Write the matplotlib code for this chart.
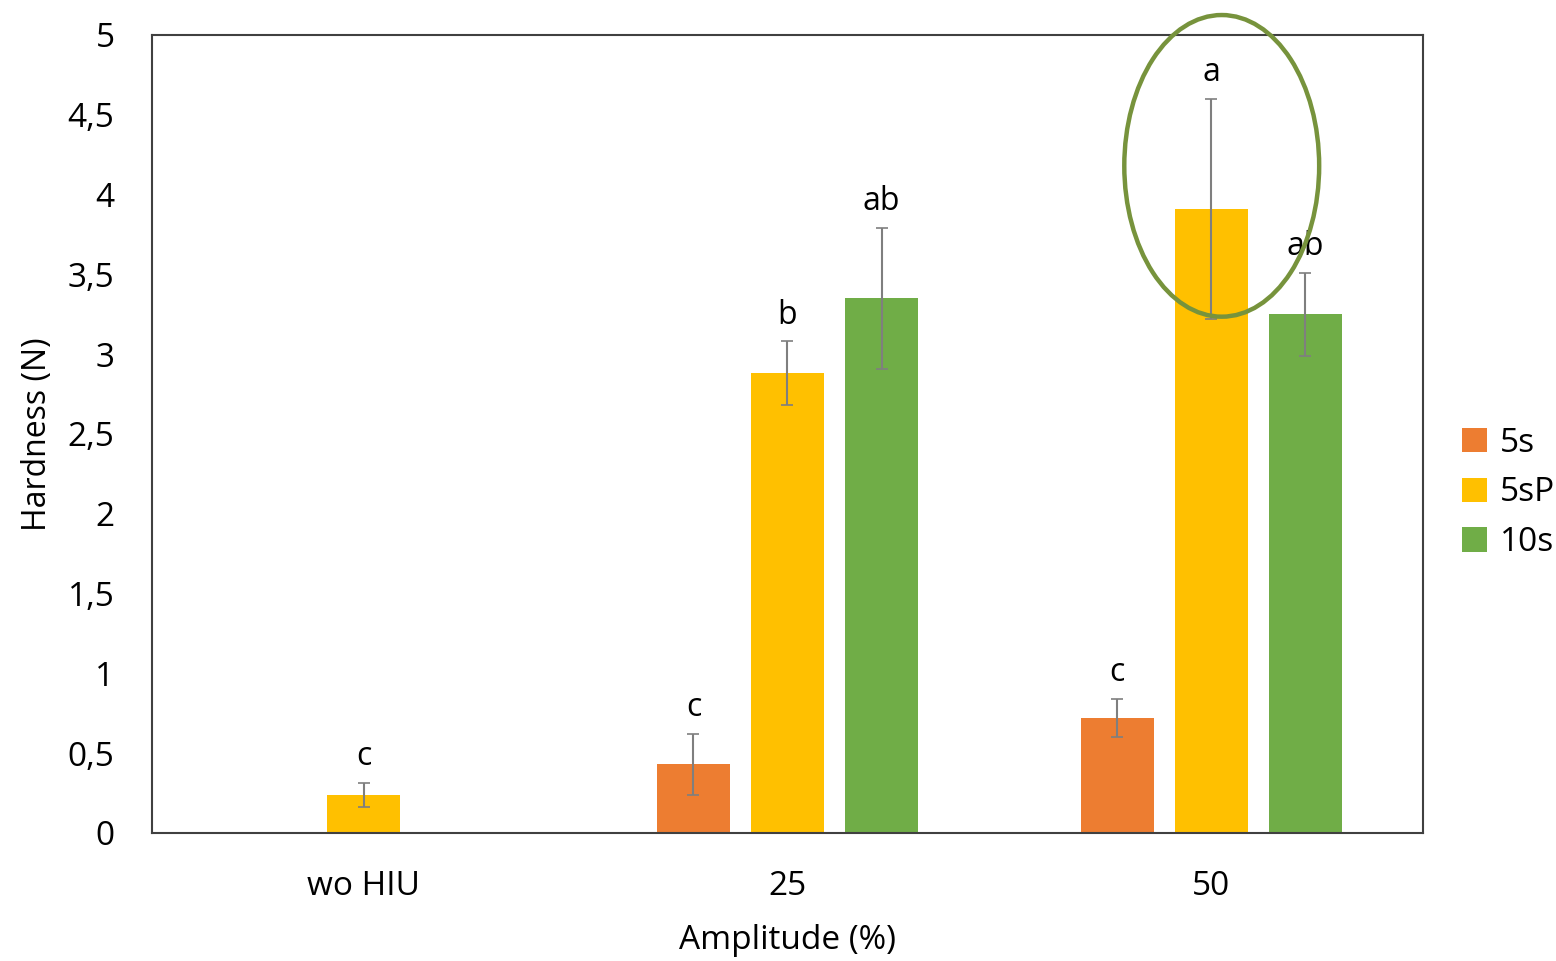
import matplotlib.pyplot as plt
import matplotlib.patches as patches
import numpy as np

plt.rcParams['font.family'] = ['Open Sans', 'DejaVu Sans']

categories = ["wo HIU", "25", "50"]
series = ["5s", "5sP", "10s"]
colors = ["#ED7D31", "#FFC000", "#70AD47"]

# hardness means (N), NaN where no bar
hard_5s = [np.nan, 0.43, 0.72]
hard_5sP = [0.24, 2.88, 3.91]
hard_10s = [np.nan, 3.35, 3.25]

err_5s = [np.nan, 0.19, 0.12]
err_5sP = [0.075, 0.20, 0.69]
err_10s = [np.nan, 0.44, 0.26]

letters_5s = ["", "c", "c"]
letters_5sP = ["c", "b", "a"]
letters_10s = ["", "ab", "ab"]

values = [hard_5s, hard_5sP, hard_10s]
errors = [err_5s, err_5sP, err_10s]
letters = [letters_5s, letters_5sP, letters_10s]

fig = plt.figure(figsize=(15.56, 9.61), dpi=100)
ax = fig.add_axes([0.0977, 0.1332, 0.9145 - 0.0977, 0.9636 - 0.1332])

x = np.arange(len(categories))
width = 0.172
step = 0.222

for i, name in enumerate(series):
    pos = x + (i - 1) * step
    vals = np.array(values[i], dtype=float)
    errs = np.array(errors[i], dtype=float)
    ax.bar(pos, vals, width, color=colors[i], label=name, zorder=2)
    ax.errorbar(pos, vals, yerr=errs, fmt='none', ecolor='#7f7f7f',
                elinewidth=1.5, capsize=4, capthick=1.2, zorder=3)
    for xp, v, e, t in zip(pos, vals, errs, letters[i]):
        if t and not np.isnan(v):
            ax.annotate(t, (xp, v + e), xytext=(0, 7), textcoords='offset points',
                        ha='center', va='bottom', fontsize=23)

# highlight ellipse around the 50 % / 5sP bar
ell = patches.Ellipse((2.025, 4.18), 0.46, 1.89, fill=False,
                      edgecolor='#77933C', linewidth=3.2, clip_on=False, zorder=4)
ax.add_patch(ell)

ax.set_xlim(-0.5, 2.5)
ax.set_ylim(0, 5)
ax.set_yticks(np.arange(0, 5.01, 0.5))
ax.set_yticklabels([f"{v:g}".replace('.', ',') for v in np.arange(0, 5.01, 0.5)])
ax.set_xticks(x)
ax.set_xticklabels(categories)
ax.tick_params(axis='both', length=0, labelsize=24)
ax.tick_params(axis='x', pad=27)
ax.tick_params(axis='y', pad=27)
for s in ax.spines.values():
    s.set_color('#404040')
    s.set_linewidth(1.5)

ax.set_xlabel("Amplitude (%)", fontsize=24, labelpad=15)
ax.set_ylabel("Hardness (N)", fontsize=23, labelpad=10)

fig.legend(loc='center left', bbox_to_anchor=(0.92, 0.487), frameon=False,
           fontsize=24, handlelength=0.75, handleheight=0.75, handletextpad=0.4,
           labelspacing=0.5)

fig.savefig("out.png", dpi=100)
